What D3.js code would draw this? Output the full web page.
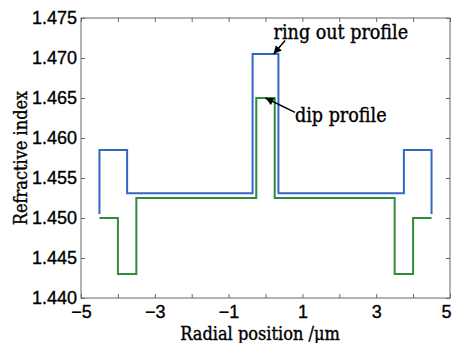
<!DOCTYPE html>
<html lang="en">
<head>
	<meta charset="utf-8">
	<title>Refractive index profiles</title>
	<script src="https://d3js.org/d3.v7.min.js"></script>
	<style>
		body { margin: 0; background: #fff; }
		svg { font-family: "DejaVu Serif Condensed", "DejaVu Serif", serif; }
		svg text { stroke: #000; stroke-width: 0.35px; }
		.tick text { font-size: 18px; fill: #000; }
		.frame { fill: none; stroke: #666; stroke-width: 1; }
	</style>
</head>
<body>
	<script>
		// data
		var xTicks = [-5, -4, -3, -2, -1, 0, 1, 2, 3, 4, 5];
		var xTickLabels = [-5, -3, -1, 1, 3, 5];
		var yTicks = [1.440, 1.445, 1.450, 1.455, 1.460, 1.465, 1.470, 1.475];

		// ring out profile (blue): step edges and level of each step
		var ringEdges = [-4.5, -3.75, -0.35, 0.35, 3.75, 4.5];
		var ringLevels = [1.4585, 1.4531, 1.4705, 1.4531, 1.4585];
		var ringEnd = 1.4505;

		// dip profile (green)
		var dipEdges = [-4.5, -4.0, -3.5, -0.25, 0.25, 3.5, 4.0, 4.5];
		var dipLevels = [1.450, 1.443, 1.4525, 1.465, 1.4525, 1.443, 1.450];

		var width = 454, height = 343;
		var margin = { left: 81, top: 18, right: 4, bottom: 45 };

		var svg = d3.select("body").append("svg")
			.attr("width", width)
			.attr("height", height);

		var x = d3.scaleLinear().domain([-5, 5]).range([margin.left, width - margin.right]);
		var y = d3.scaleLinear().domain([1.440, 1.475]).range([height - margin.bottom, margin.top]);

		// turn edges + levels into a step path
		function steps(edges, levels, endVal) {
			var pts = [];
			if (endVal !== undefined) pts.push([edges[0], endVal]);
			for (var i = 0; i < levels.length; i++) {
				pts.push([edges[i], levels[i]]);
				pts.push([edges[i + 1], levels[i]]);
			}
			if (endVal !== undefined) pts.push([edges[edges.length - 1], endVal]);
			return pts;
		}

		var line = d3.line()
			.x(function(d) { return x(d[0]); })
			.y(function(d) { return y(d[1]); });

		// axes, ticks inside on all four sides
		var xb = d3.axisBottom(x).tickValues(xTicks).tickSizeInner(-4).tickSizeOuter(0)
			.tickPadding(6)
			.tickFormat(function(d) { return xTickLabels.indexOf(d) >= 0 ? d3.format("")(d).replace("-", "\u2212") : ""; });
		var yl = d3.axisLeft(y).tickValues(yTicks).tickSizeInner(-4).tickSizeOuter(0)
			.tickPadding(4).tickFormat(d3.format(".3f"));

		var gx = svg.append("g").attr("transform", "translate(0," + y.range()[0] + ")").call(xb);
		var gy = svg.append("g").attr("transform", "translate(" + x.range()[0] + ",0)").call(yl);
		svg.append("g").attr("transform", "translate(0," + y.range()[1] + ")")
			.call(d3.axisTop(x).tickValues(xTicks).tickSizeInner(-4).tickSizeOuter(0).tickFormat(""));
		svg.append("g").attr("transform", "translate(" + x.range()[1] + ",0)")
			.call(d3.axisRight(y).tickValues(yTicks).tickSizeInner(-4).tickSizeOuter(0).tickFormat(""));
		svg.selectAll(".domain").remove();
		svg.selectAll(".tick line").attr("stroke", "#666");
		gx.selectAll(".tick text").attr("dy", "0.8em");
		// last label sits on the edge; nudge it in so it stays readable
		gx.selectAll(".tick text").filter(function(d) { return d === 5; }).attr("dx", -4);

		svg.append("rect").attr("class", "frame")
			.attr("x", x(-5)).attr("y", y(1.475))
			.attr("width", x(5) - x(-5)).attr("height", y(1.440) - y(1.475));

		svg.append("path")
			.attr("d", line(steps(dipEdges, dipLevels)))
			.attr("fill", "none").attr("stroke", "#2e8b3c").attr("stroke-width", 2);
		svg.append("path")
			.attr("d", line(steps(ringEdges, ringLevels, ringEnd)))
			.attr("fill", "none").attr("stroke", "#3366c6").attr("stroke-width", 2);

		// annotations
		svg.append("defs").append("marker")
			.attr("id", "arr").attr("viewBox", "0 0 10 10")
			.attr("refX", 10).attr("refY", 5)
			.attr("markerWidth", 10).attr("markerHeight", 8)
			.attr("markerUnits", "userSpaceOnUse")
			.attr("orient", "auto")
			.append("path").attr("d", "M0,0 L10,5 L0,10 z").attr("fill", "#000");

		svg.append("line")
			.attr("x1", x(0.53)).attr("y1", y(1.4722))
			.attr("x2", x(0.22)).attr("y2", y(1.4705))
			.attr("stroke", "#000").attr("stroke-width", 1.5).attr("marker-end", "url(#arr)");
		svg.append("line")
			.attr("x1", x(0.8)).attr("y1", y(1.4632))
			.attr("x2", x(0.0)).attr("y2", y(1.465))
			.attr("stroke", "#000").attr("stroke-width", 1.5).attr("marker-end", "url(#arr)");

		svg.append("text").attr("x", x(0.22)).attr("y", 39)
			.attr("font-size", 19.5).attr("fill", "#000").text("ring out profile");
		svg.append("text").attr("x", x(0.8)).attr("y", 122)
			.attr("font-size", 19.5).attr("fill", "#000").text("dip profile");

		// axis titles
		svg.append("text")
			.attr("x", 260).attr("y", 340)
			.attr("text-anchor", "middle").attr("font-size", 18).attr("fill", "#000")
			.text("Radial position /\u03bcm");
		svg.append("text")
			.attr("transform", "translate(27," + ((y(1.440) + y(1.475)) / 2) + ") rotate(-90)")
			.attr("text-anchor", "middle").attr("font-size", 18).attr("fill", "#000")
			.text("Refractive index");
	</script>
</body>
</html>
